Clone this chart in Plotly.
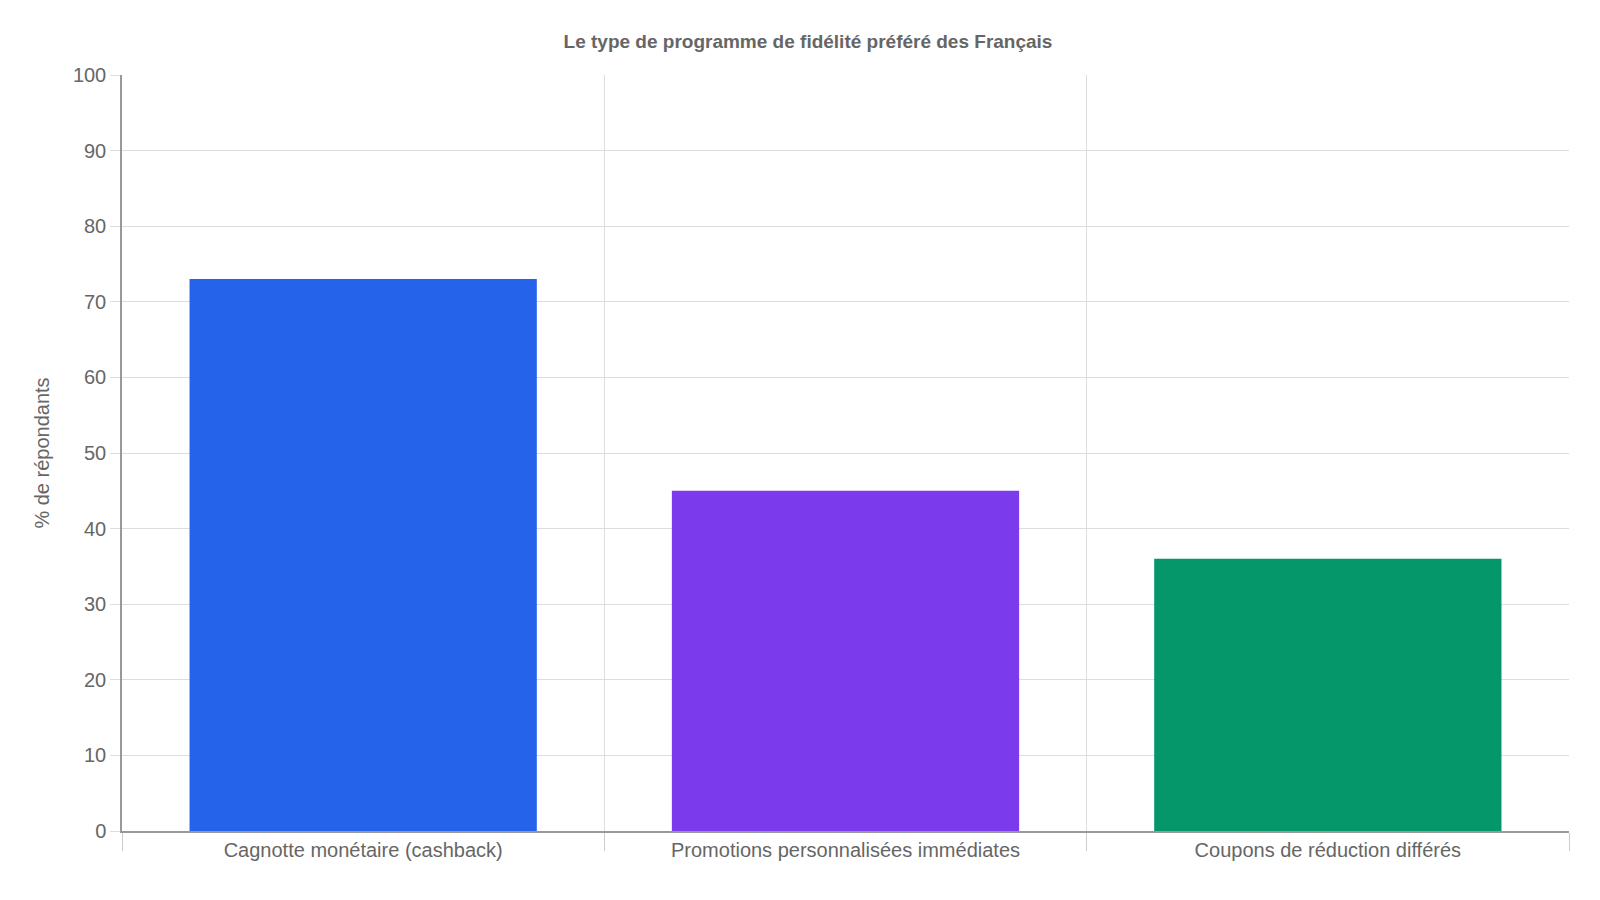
import plotly.graph_objects as go

categories = ["Cagnotte monétaire (cashback)", "Promotions personnalisées immédiates", "Coupons de réduction différés"]
values = [73, 45, 36]
colors = ["#2563EB", "#7C3AED", "#059669"]

fig = go.Figure(go.Bar(x=categories, y=values, marker=dict(color=colors, line=dict(width=0)),
                       width=0.72, hoverinfo="x+y"))

fig.update_layout(
    width=1600, height=900,
    margin=dict(l=114, r=39, t=67, b=77),
    paper_bgcolor="white", plot_bgcolor="white",
    font=dict(family="Liberation Sans, Arial, sans-serif", color="#666666", size=20),
    title=dict(text="<b>Le type de programme de fidélité préféré des Français</b>",
               x=0.5, xanchor="center", y=0.963, yanchor="middle",
               font=dict(size=19, color="#666666")),
    showlegend=False,
)
fig.update_xaxes(tickson="boundaries", showgrid=True, gridcolor="#dddddd", gridwidth=1,
                 ticks="outside", ticklen=18, tickcolor="#cccccc",
                 showline=True, linecolor="#999999", linewidth=1.5,
                 tickfont=dict(size=20))
fig.update_yaxes(range=[0, 100], dtick=10, showgrid=True, gridcolor="#dddddd",
                 ticks="outside", ticklen=10, tickcolor="#dddddd",
                 showline=True, linecolor="#999999", linewidth=1.5, zeroline=False,
                 title=dict(text="% de répondants", font=dict(size=20), standoff=18),
                 tickfont=dict(size=20))

fig.write_html("out.html")
